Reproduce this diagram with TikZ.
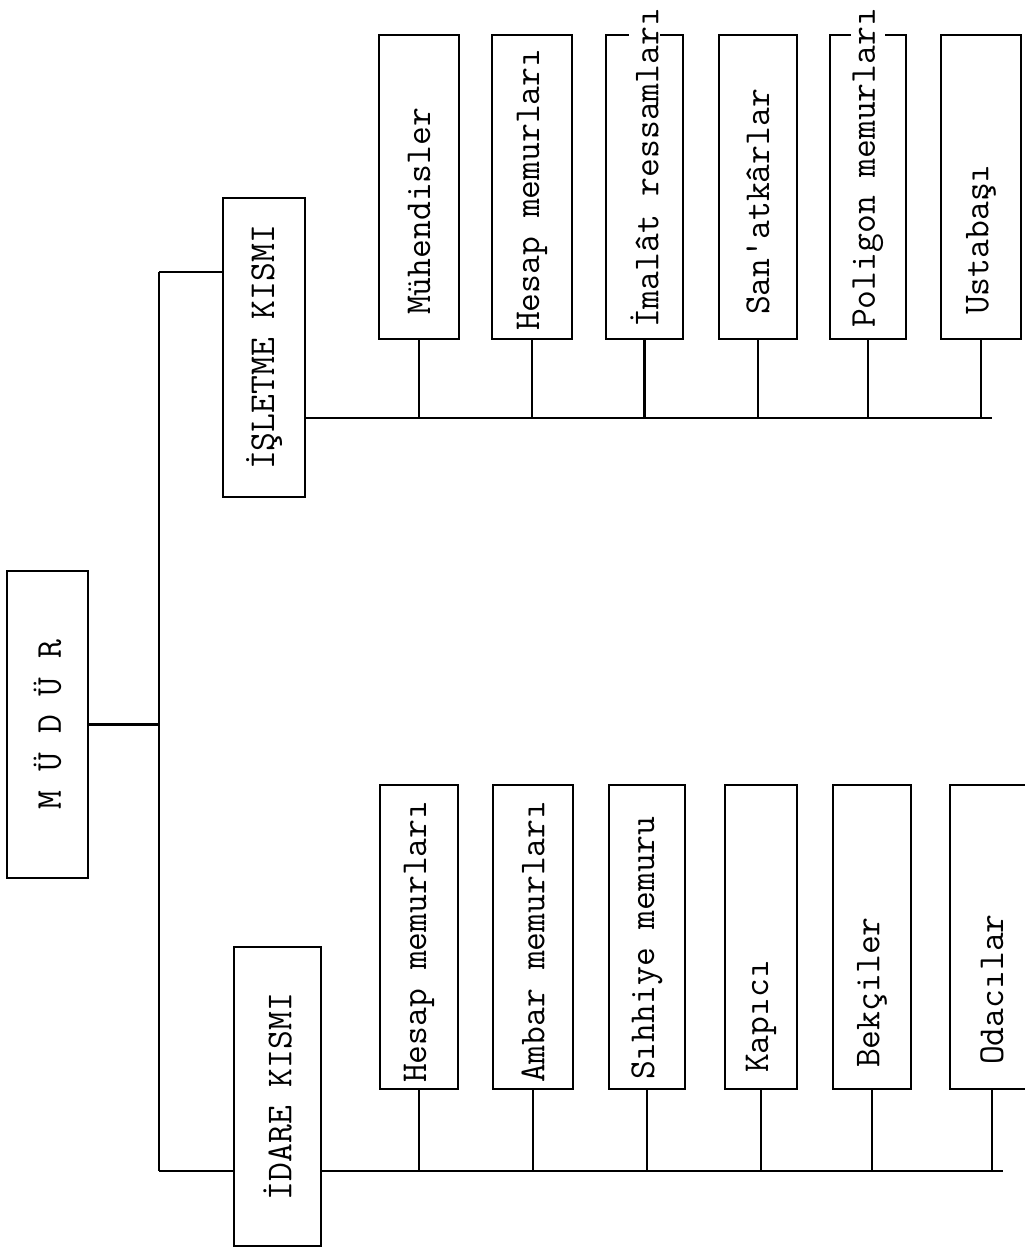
\documentclass[tikz,border=0pt]{standalone}
\usepackage{fontspec}
\usepackage{graphicx}
\newcommand{\typesize}{\ttfamily\fontsize{20.8pt}{22pt}\selectfont}
\begin{document}
\begin{tikzpicture}[x=0.2mm, y=-0.2mm,
        kbox/.style={draw, line width=1.4pt, rectangle, inner sep=0pt, font=\typesize},
        subbox/.style={kbox, minimum width=16mm, minimum height=60.8mm},
        lbl/.style={rotate=90, anchor=west, font=\typesize, fill=white, inner sep=1pt},
        link/.style={line width=1.3pt}]
        \useasboundingbox (0,0) rectangle (1025,1254);
        % head and the two sections
        \node at (47.5,724.5) (M) [kbox, minimum width=16.2mm, minimum height=61.4mm] {\rotatebox{90}{M Ü D Ü R}};
        \node at (264,347.5) (I) [kbox, minimum width=16.4mm, minimum height=59.8mm] {\rotatebox{90}{İŞLETME KISMI}};
        \node at (277.5,1096.5) (D) [kbox, minimum width=17.4mm, minimum height=59.8mm] {\rotatebox{90}{İDARE KISMI}};
        \coordinate (vtop) at (159,272);
        \coordinate (vbot) at (159,1171);
        \coordinate (ibus) at (992,418);
        \coordinate (dbus) at (1003,1171);
        \draw[link] (vtop) -- (vbot);
        \draw[link] (M.east) -- (M.east -| vtop);
        \draw[link] (vtop) -- (I.west |- vtop);
        \draw[link] (vbot) -- (D.west |- vbot);
        % isletme kismi
        \node at (419,187) (I1) [subbox] {};
        \node at (532,187) (I2) [subbox] {};
        \node at (644.5,187) (I3) [subbox, minimum width=15.4mm] {};
        \node at (758,187) (I4) [subbox, minimum width=15.6mm] {};
        \node at (868,187) (I5) [subbox, minimum width=15.2mm] {};
        \node at (981,187) (I6) [subbox] {};
        \node at (419,317) (tI1) [lbl] {Mühendisler};
        \node at (532,333) (tI2) [lbl] {Hesap memurları};
        \node at (644.5,330) (tI3) [lbl] {İmalât ressamları};
        \node at (758,317) (tI4) [lbl] {San'atkârlar};
        \node at (868,330) (tI5) [lbl] {Poligon memurları};
        \node at (981,317) (tI6) [lbl] {Ustabaşı};
        \draw[link] (I.east |- ibus) -- (ibus);
        \draw[link] (I1.south) -- (I1.south |- ibus);
        \draw[link] (I2.south) -- (I2.south |- ibus);
        \draw[link] (I3.south) -- (I3.south |- ibus);
        \draw[link] (I4.south) -- (I4.south |- ibus);
        \draw[link] (I5.south) -- (I5.south |- ibus);
        \draw[link] (I6.south) -- (I6.south |- ibus);
        % idare kismi
        \node at (419,937) (D1) [subbox, minimum width=15.6mm] {};
        \node at (533,937) (D2) [subbox] {};
        \node at (647,937) (D3) [subbox, minimum width=15.2mm] {};
        \node at (761,937) (D4) [subbox, minimum width=14.4mm] {};
        \node at (872,937) (D5) [subbox, minimum width=15.6mm] {};
        \node at (992,937) (D6) [subbox, minimum width=16.8mm] {};
        \node at (419,1085) (tD1) [lbl] {Hesap memurları};
        \node at (533,1085) (tD2) [lbl] {Ambar memurları};
        \node at (647,1082) (tD3) [lbl] {Sıhhiye memuru};
        \node at (761,1075) (tD4) [lbl] {Kapıcı};
        \node at (872,1070) (tD5) [lbl] {Bekçiler};
        \node at (992,1067) (tD6) [lbl] {Odacılar};
        \draw[link] (D.east |- dbus) -- (dbus);
        \draw[link] (D1.south) -- (D1.south |- dbus);
        \draw[link] (D2.south) -- (D2.south |- dbus);
        \draw[link] (D3.south) -- (D3.south |- dbus);
        \draw[link] (D4.south) -- (D4.south |- dbus);
        \draw[link] (D5.south) -- (D5.south |- dbus);
        \draw[link] (D6.south) -- (D6.south |- dbus);
    \end{tikzpicture}
\end{document}
